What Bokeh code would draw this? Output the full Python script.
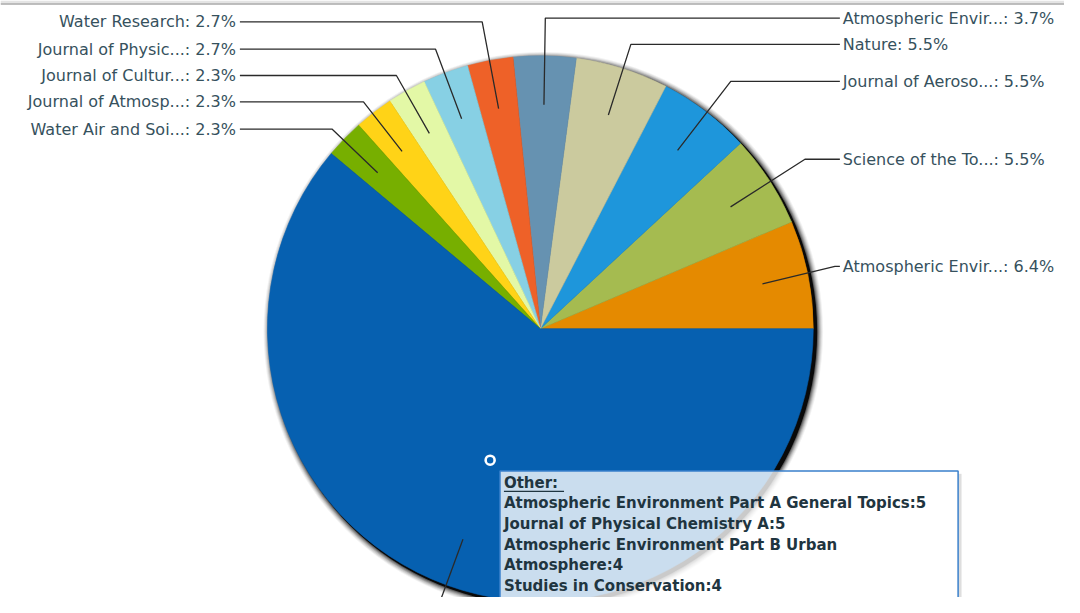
import math
from bokeh.plotting import figure
from bokeh.models import Range1d, ColumnDataSource
from bokeh.core.properties import value
from bokeh.embed import file_html
from bokeh.resources import INLINE

# ---------------- data ----------------
names = ["Atmospheric Envir...", "Science of the To...", "Journal of Aeroso...", "Nature",
         "Atmospheric Envir...", "Water Research", "Journal of Physic...", "Journal of Cultur...",
         "Journal of Atmosp...", "Water Air and Soi...", "Other"]
percents = [6.4, 5.5, 5.5, 5.5, 3.7, 2.7, 2.7, 2.3, 2.3, 2.3, 61.1]
colors = ["#E58A00", "#A5BB50", "#1E96DB", "#CBCA9E", "#6692B1", "#EE6128",
          "#87D0E4", "#E3F8A6", "#FFD317", "#77AF00", "#0660B0"]
tooltip_title = "Other:"
tooltip_items = ["Atmospheric Environment Part A General Topics:5",
                 "Journal of Physical Chemistry A:5",
                 "Atmospheric Environment Part B Urban",
                 "Atmosphere:4",
                 "Studies in Conservation:4"]

# ---------------- layout (reference pixels, y downward) ----------------
W, H = 1064, 597           # figure size on the page
RW, RH = 1080, 613         # layout canvas
CX, CY, R = 548, 337, 277
label_side = ["r", "r", "r", "r", "r", "l", "l", "l", "l", "l", None]
label_y = [273, 163, 83, 45, 18, 22, 50, 77, 104, 132, None]
LEFT_TEXT_X, LEFT_LINE_X = 239, 243
RIGHT_TEXT_X, RIGHT_LINE_X = 855, 852
LEADER_R = 230
LABEL_FONT = "DejaVu Sans"
LABEL_COLOR = "#36515D"
LINE_COLOR = "#2A2A2A"


def Y(y):
    return -y


p = figure(width=W, height=H, x_range=Range1d(0, RW), y_range=Range1d(-RH, 0),
           output_backend="svg", toolbar_location=None, min_border=0,
           x_axis_location=None, y_axis_location=None)
p.grid.visible = False
p.outline_line_color = None
p.background_fill_color = "white"
p.border_fill_color = "white"

# top frame strip
p.quad(left=[0], right=[RW], top=[Y(0)], bottom=[Y(3)], fill_color="#E4E4E4", line_color=None)
p.line([0, RW], [Y(3.5), Y(3.5)], line_color="#A9A9A9", line_width=1.5)

# angles
total = sum(percents)
starts, ends = [], []
acc = 0.0
for v in percents:
    starts.append(acc / total * 2 * math.pi)
    acc += v
    ends.append(acc / total * 2 * math.pi)

# shadow
for s, a in [(7, 0.05), (6, 0.07), (5, 0.1), (4, 0.14), (3, 0.2), (2, 0.3)]:
    p.circle(x=[CX + 3], y=[Y(CY + 3)], radius=R + s, fill_color="black", fill_alpha=a,
             line_color=None)
p.circle(x=[CX + 3], y=[Y(CY + 3)], radius=R + 1, fill_color="black", fill_alpha=0.9,
         line_color=None)

src = ColumnDataSource(dict(start=starts, end=ends, color=colors,
                            x=[CX] * len(percents), y=[Y(CY)] * len(percents)))
p.wedge(x="x", y="y", radius=R, start_angle="start", end_angle="end",
        direction="anticlock", fill_color="color", line_color="color", line_width=0.6,
        source=src)

# leader lines and labels
lx, ly_, rx, ry_ = [], [], [], []
ltxt, rtxt = [], []
for i, name in enumerate(names):
    mid = (starts[i] + ends[i]) / 2
    ex = CX + LEADER_R * math.cos(mid)
    ey = CY - LEADER_R * math.sin(mid)
    side = label_side[i]
    if side is None:
        fx = CX + 320 * math.cos(mid)
        fy = CY - 320 * math.sin(mid)
        p.line([ex, fx], [Y(ey), Y(fy)], line_color=LINE_COLOR, line_width=1.3)
        continue
    ly = label_y[i]
    rr = (CY - ly) / math.sin(mid)
    cx = CX + rr * math.cos(mid)
    if side == "r":
        cx = min(cx, RIGHT_LINE_X - 5)
        xs = [ex, cx, RIGHT_LINE_X]
        rx.append(RIGHT_TEXT_X); ry_.append(Y(ly)); rtxt.append(f"{name}: {percents[i]}%")
    else:
        cx = max(cx, LEFT_LINE_X + 5)
        xs = [ex, cx, LEFT_LINE_X]
        lx.append(LEFT_TEXT_X); ly_.append(Y(ly)); ltxt.append(f"{name}: {percents[i]}%")
    p.line(xs, [Y(ey), Y(ly), Y(ly)], line_color=LINE_COLOR, line_width=1.3)

p.text(x=rx, y=ry_, text=rtxt, text_align="left", text_baseline="middle",
       text_font=value(LABEL_FONT), text_font_size="16px", text_color=LABEL_COLOR)
p.text(x=lx, y=ly_, text=ltxt, text_align="right", text_baseline="middle",
       text_font=value(LABEL_FONT), text_font_size="16px", text_color=LABEL_COLOR)

# hover marker
p.scatter(x=[497], y=[Y(472)], size=9, marker="circle", fill_color=None,
          line_color="white", line_width=2.6)

# tooltip box
p.quad(left=[972], right=[975.5], top=[Y(486)], bottom=[Y(660)], fill_color="black",
       fill_alpha=0.13, line_color=None)
p.quad(left=[507], right=[972], top=[Y(483)], bottom=[Y(660)], fill_color="white",
       fill_alpha=0.79, line_color="#3A80CC", line_width=1.5)
tip_lines = [tooltip_title] + tooltip_items
tip_y = [495 + 21.2 * k for k in range(len(tip_lines))]
p.text(x=[511] * len(tip_lines), y=[Y(v) for v in tip_y], text=tip_lines,
       text_align="left", text_baseline="middle", text_font=value(LABEL_FONT),
       text_font_style="bold", text_font_size="15px", text_color="#1F3540")
p.line([511, 572], [Y(504), Y(504)], line_color="#1F3540", line_width=1.4)

open("out.html", "w").write(file_html(p, INLINE))
